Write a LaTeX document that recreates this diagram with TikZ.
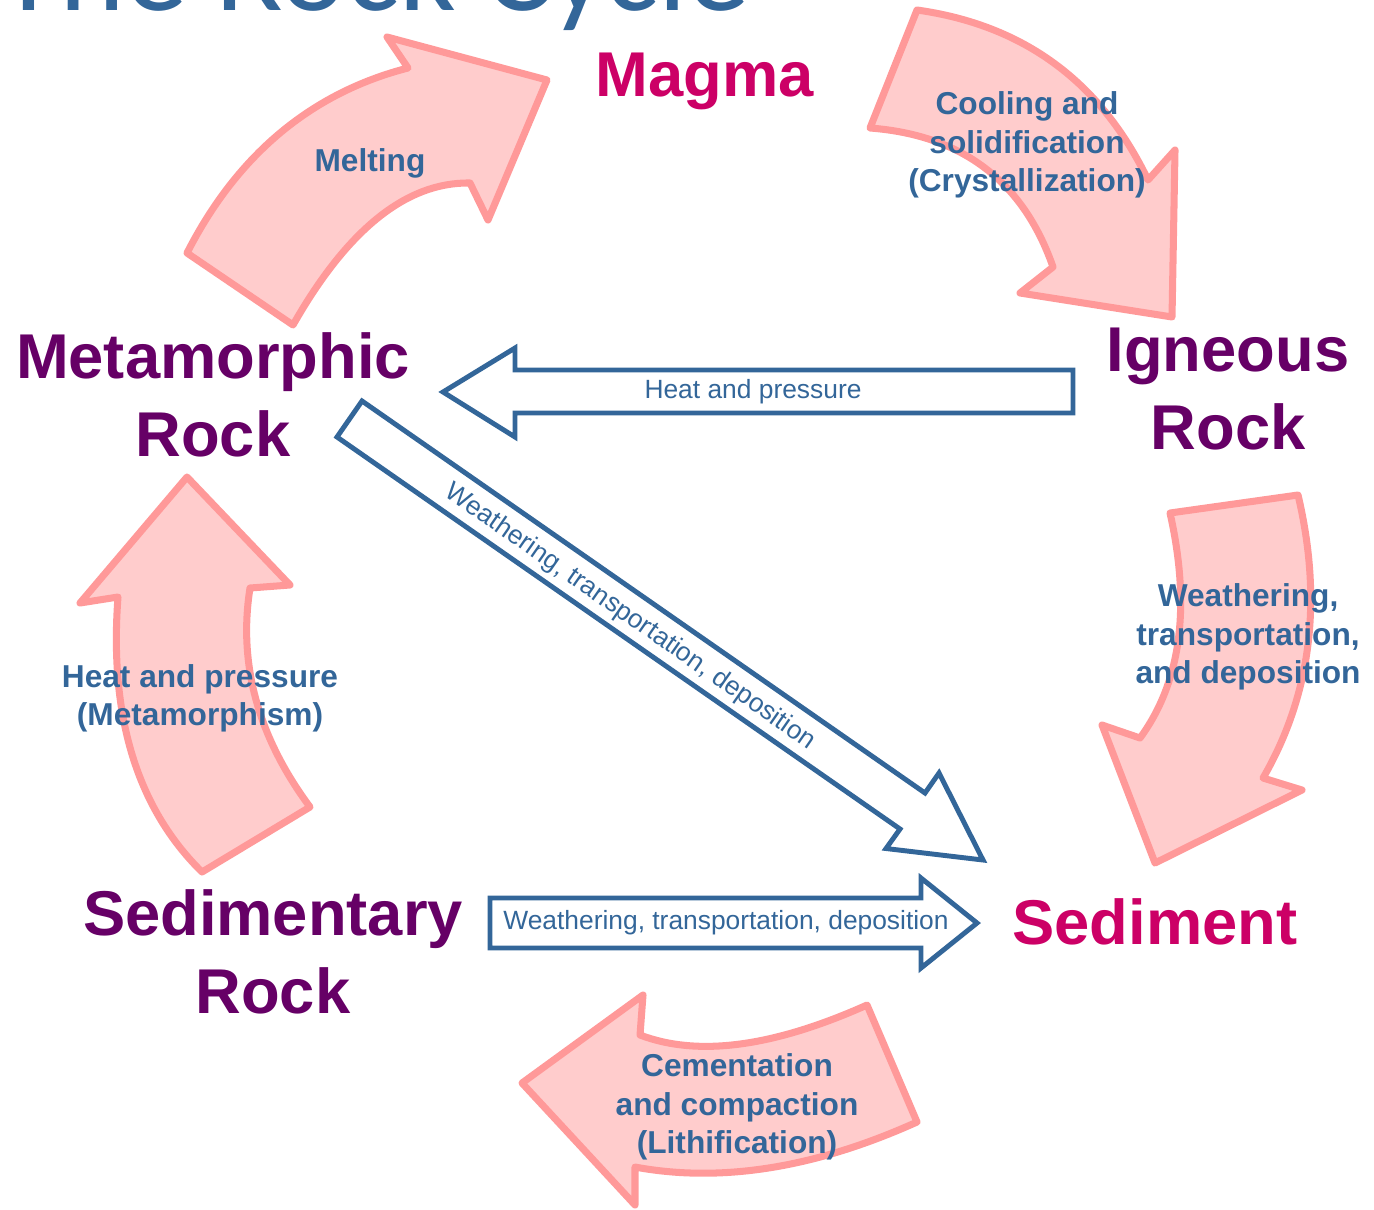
\documentclass[tikz,border=0pt]{standalone}
\usepackage{fontspec}
\setmainfont{Liberation Sans}
\newfontfamily\titlefont{Carlito}
\usetikzlibrary{calc}
\definecolor{RockPurple}{HTML}{660066}
\definecolor{RockMagenta}{HTML}{CC0066}
\definecolor{RockBlue}{HTML}{336699}
\definecolor{RockPink}{HTML}{FF9999}
\definecolor{RockPinkFill}{HTML}{FFCCCC}
\tikzset{
    % Rock type names
    rock/.style={
        font=\fontsize{18}{22}\selectfont\bfseries,
        text=RockPurple,
        align=center
    },
    % Magma and sediment
    material/.style={
        font=\fontsize{18}{22}\selectfont\bfseries,
        text=RockMagenta,
        align=center
    },
    % Process text on the pink arrows
    process/.style={
        font=\fontsize{9}{10.9}\selectfont\bfseries,
        text=RockBlue,
        align=center
    },
    % Text on the blue arrows
    shortcut/.style={
        font=\fontsize{7.5}{9}\selectfont,
        text=RockBlue
    },
    % Curved pink arrow
    bigarrow/.style={
        draw=RockPink,
        fill=RockPinkFill,
        line width=2pt,
        line join=round
    },
    % Flat blue arrow
    flatarrow/.style={
        draw=RockBlue,
        fill=white,
        line width=1.4pt
    }
}

\begin{document}
\begin{tikzpicture}[x=0.01cm, y=-0.01cm]
        \useasboundingbox (0,0) rectangle (1374,1209);
        \clip (0,0) rectangle (1374,1209);

        % Title, cut by the top edge
        \node (title) [anchor=base west, inner sep=0, text=RockBlue,
            font=\titlefont\fontsize{35.5}{40}\selectfont] at (-2,11) {The Rock Cycle};

        % Pink arrows of the cycle
        \draw [bigarrow] (408,68) .. controls (311,93) and (237,155) .. (187,253) -- (293,325)
            .. controls (347,230) and (406,182) .. (470,183) -- (488,220) -- (547,80) -- (387,37) -- cycle;
        \draw [bigarrow] (917,10) -- (870,128) .. controls (962,135) and (1023,181) .. (1053,267)
            -- (1020,293) -- (1172,317) -- (1175,150) -- (1148,180)
            .. controls (1101,82) and (1024,25) .. cycle;
        \draw [bigarrow] (1170,513) -- (1298,495) .. controls (1323,601) and (1311,695) .. (1263,778)
            -- (1302,790) -- (1155,863) -- (1102,725) -- (1140,738)
            .. controls (1181,682) and (1191,607) .. cycle;
        \draw [bigarrow] (187,477) -- (290,585) -- (250,588) .. controls (238,664) and (258,737) .. (310,807)
            -- (202,872) .. controls (137,808) and (109,716) .. (118,597) -- (80,603) -- cycle;
        \draw [bigarrow] (522,1083) -- (643,995) -- (640,1035) .. controls (698,1057) and (773,1047) .. (867,1005)
            -- (917,1122) .. controls (815,1168) and (721,1183) .. (635,1167) -- (635,1205) -- cycle;

        % Blue arrows across the cycle
        \draw [flatarrow] (1073,370) -- (515,370) -- (515,348) -- (443,392)
            -- (515,437) -- (515,413) -- (1073,413) -- cycle;
        \draw [flatarrow] (362,401) -- (925,793) -- (939,773) -- (983,860)
            -- (886,848.5) -- (900,829) -- (337,437) -- cycle;
        \draw [flatarrow] (490,898) -- (921,898) -- (921,878) -- (977,923)
            -- (921,968) -- (921,948) -- (490,948) -- cycle;

        % Stages
        \node (magma) [material] at (705,81) {Magma};
        \node (igneous) [rock] at (1228,389) {Igneous\\Rock};
        \node (sediment) [material] at (1155,922) {Sediment};
        \node (sedimentary) [rock] at (273,952) {Sedimentary\\Rock};
        \node (metamorphic) [rock] at (213,395) {Metamorphic\\Rock};

        % Processes
        \node (melting) [process] at (370,163) {Melting};
        \node (cooling) [process] at (1027,145) {Cooling and\\solidification\\(Crystallization)};
        \node (weathering) [process] at (1248,637) {Weathering,\\transportation,\\and deposition};
        \node (lithification) [process] at (737,1107) {Cementation\\and compaction\\(Lithification)};
        \node (metamorphism) [process] at (200,698) {Heat and pressure\\(Metamorphism)};

        \node (heat) [shortcut] at (753,392) {Heat and pressure};
        \node (erosion1) [shortcut, rotate=-34.9] at (630,617) {Weathering, transportation, deposition};
        \node (erosion2) [shortcut] at (726,923) {Weathering, transportation, deposition};
\end{tikzpicture}
\end{document}
